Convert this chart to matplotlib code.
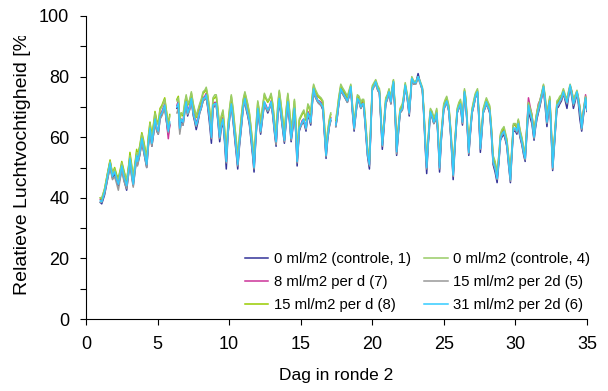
import numpy as np
import matplotlib
matplotlib.use('Agg')
import matplotlib.pyplot as plt
from matplotlib.ticker import MultipleLocator
from matplotlib.transforms import Bbox, TransformedBbox

nan = np.nan

# meetmomenten (dag in ronde 2), per dag een rij
dag = [
    1.0, 1.1, 1.3, 1.5, 1.68, 1.85, 2.0,
    2.15, 2.26, 2.4, 2.5, 2.65, 2.84, 3.0,
    3.07, 3.2, 3.3, 3.45, 3.54, 3.6, 3.75, 3.9,
    4.0, 4.12, 4.24, 4.35, 4.47, 4.6, 4.72, 4.82, 4.95,
    5.05, 5.17, 5.3, 5.5, 5.6, 5.75, 5.85, 6.1,
    6.35, 6.45, 6.55, 6.65, 6.78, 6.9,
    7.0, 7.1, 7.25, 7.36, 7.5, 7.6, 7.7, 7.82, 7.94,
    8.05, 8.18, 8.3, 8.4, 8.5, 8.62, 8.76, 8.87,
    9.0, 9.1, 9.22, 9.34, 9.45, 9.57, 9.68, 9.8, 9.92,
    10.04, 10.15, 10.28, 10.4, 10.5, 10.6, 10.72, 10.85, 10.98,
    11.1, 11.2, 11.3, 11.42, 11.55, 11.65, 11.74, 11.86,
    12.0, 12.1, 12.2, 12.33, 12.46, 12.58, 12.7, 12.82, 12.93,
    13.05, 13.18, 13.28, 13.4, 13.5, 13.6, 13.7, 13.86, 13.98,
    14.1, 14.22, 14.33, 14.45, 14.56, 14.66, 14.75, 14.82, 14.9,
    15.0, 15.1, 15.22, 15.37, 15.5, 15.6, 15.7, 15.8, 15.9,
    16.0, 16.1, 16.2, 16.3, 16.42, 16.55, 16.66, 16.77, 16.88,
    17.0, 17.1, 17.25, 17.45, 17.55, 17.65, 17.8, 17.9,
    18.03, 18.15, 18.26, 18.38, 18.5, 18.6, 18.73, 18.85, 18.96,
    19.08, 19.2, 19.3, 19.4, 19.52, 19.66, 19.8, 19.9,
    20.0, 20.12, 20.24, 20.38, 20.5, 20.6, 20.7, 20.82, 20.94,
    21.05, 21.17, 21.3, 21.4, 21.48, 21.6, 21.7, 21.82, 21.94,
    22.1, 22.2, 22.3, 22.45, 22.58, 22.68, 22.76, 22.9,
    23.05, 23.2, 23.35, 23.5, 23.6, 23.7, 23.8, 23.9,
    24.0, 24.06, 24.18, 24.3, 24.4, 24.5, 24.6, 24.7, 24.82, 24.99,
    25.1, 25.2, 25.35, 25.5, 25.65, 25.78, 25.93,
    26.05, 26.16, 26.3, 26.44, 26.52, 26.6, 26.74, 26.85, 26.97,
    27.1, 27.2, 27.35, 27.45, 27.55, 27.65, 27.75, 27.87, 27.97,
    28.1, 28.2, 28.32, 28.44, 28.58, 28.72, 28.85, 28.95,
    29.05, 29.2, 29.3, 29.4, 29.52, 29.65, 29.75, 29.86,
    30.0, 30.1, 30.2, 30.32, 30.45, 30.58, 30.68, 30.8, 30.91,
    31.03, 31.15, 31.3, 31.4, 31.5, 31.6, 31.7, 31.85, 31.96,
    32.08, 32.2, 32.3, 32.4, 32.5, 32.6, 32.75, 32.9,
    33.0, 33.1, 33.22, 33.35, 33.48, 33.6, 33.7, 33.82, 33.95,
    34.05, 34.18, 34.3, 34.4, 34.5, 34.63, 34.75, 34.9, 35.0,
]

# 0 ml/m2 (controle, 1)
rv_controle_1 = [
    38.5, 38, 41, 46, 50.5, 46.5, 48,
    45.5, 44, 47, 50, 46, 42.5, 49,
    52, 47, 44, 50, 53, 51, 54, 58.5,
    56, 53, 50, 57, 62, 57, 61, 65, 62,
    61, 66, 67.5, 70, 66, 61, 64, nan,
    69.5, 71, 62, 65, 64, 68.5,
    71, 67, 69.5, 72, 67, 65, 62.5, 65, 68,
    69.5, 72, 72.5, 73, 70, 65, 58, 69.5,
    70.5, 70.5, 65, 58.5, 63, 65, 58.5, 49.5, 61,
    66.5, 70.5, 65, 59, 54.5, 49.5, 57, 63, 69.5,
    72, 69, 67, 64, 58, 53.5, 48.5, 59,
    69, 65, 61, 66, 71, 69.5, 68, 69.5, 71.5,
    67, 61, 57, 67, 72, 68, 64, 58, 65,
    71, 65, 58.5, 63, 69, 61, 50.5, 56, 62,
    63.5, 64.5, 65, 62, 67.5, 66, 64, 70.5, 75.5,
    73.5, 72.5, 71.5, 71, 70.5, 69, 61, 53, 59,
    63.5, 65.5, nan, 63.5, 66.5, 70.5, 75.5, 74.5,
    73.5, 72.5, 71.5, 73.5, 76, 69, 62, 67.5, 72,
    71.5, 69.5, 70.5, 70.5, 63, 54, 49.5, 63,
    75.5, 77, 78, 75.5, 74.5, 65, 56, 63, 71,
    72.5, 74.5, 71, 75.5, 78, 67, 54, 61, 68,
    69, 72.5, 77, 72.5, 67, 73.5, 79.5, 77.5,
    78, 81, 78, 75.5, 67, 56.5, 48, 57,
    64, 68, 66.5, 64.5, 65.5, 67.5, 59, 48.5, 59, 69,
    70.5, 71.5, 68.5, 59, 46, 57, 68,
    69.5, 70.5, 64, 74.5, 71.5, 66, 54, 61, 68,
    70.5, 73, 74.5, 66, 55, 61, 68, 69.5, 71,
    69.5, 68, 61, 51, 48.5, 45, 52, 59,
    60, 61, 59, 57, 51, 45, 54, 62,
    62, 61, 63.5, 60, 57.5, 54, 52, 61, 68.5,
    66.5, 64.5, 59, 63, 66, 68, 70, 73.5, 76,
    70, 63.5, 68, 71, 61, 49, 59, 69.5,
    70, 71, 72, 74.5, 72, 69.5, 73, 76.5, 73,
    69.5, 72, 74.5, 71, 66, 62, 67, 72, 68.5,
]

# 0 ml/m2 (controle, 4)
rv_controle_4 = [
    40, 40, 43, 48, 52, 48, 49.5,
    47, 46, 49, 51.5, 48.5, 46, 51,
    54, 50, 47, 52, 55, 54, 56.5, 61,
    59, 56, 53, 59.5, 64.5, 60, 64, 68, 65,
    64, 69, 70, 72.5, 69, 64, 67, nan,
    72, 73, 66, 68, 67.5, 71.5,
    74, 71, 72.5, 75, 71, 69, 67, 69, 71,
    72.5, 75, 75.5, 76.5, 74, 70, 63, 73,
    74, 74, 69.5, 63, 67, 69, 63, 54.5, 64.5,
    70, 74, 69.5, 63.5, 59, 53.5, 60.5, 67, 72.5,
    75, 73, 71, 68, 62.5, 58, 52.5, 62.5,
    72, 69, 65, 70, 74.5, 73, 72, 73, 74.5,
    71, 65, 61, 71, 75.5, 72, 68, 62, 69,
    74.5, 69, 62.5, 67, 72.5, 65, 55, 60, 66,
    67, 68, 69, 66, 71, 70, 68, 73.5, 77.5,
    76, 75, 74, 73.5, 73, 72, 64.5, 56.5, 62,
    66, 68, nan, 66, 69, 73, 77.5, 76.5,
    75.5, 74.5, 73.5, 75.5, 77.5, 71.5, 65, 69.5, 74,
    73.5, 71.5, 72.5, 72.5, 66, 57, 52.5, 65.5,
    77, 78, 79, 77, 76, 67.5, 59, 65.5, 73,
    74, 76, 73, 77, 79, 69.5, 57, 63.5, 69.5,
    71, 74, 78, 74, 69.5, 75, 80, 78.5,
    78.5, 80, 78.5, 76.5, 69.5, 60, 52, 59.5,
    66.5, 69.5, 68.5, 66.5, 67.5, 69.5, 61.5, 52, 61.5, 71,
    72.5, 73.5, 70.5, 61.5, 49.5, 59.5, 69.5,
    71.5, 72.5, 66.5, 76, 73.5, 68.5, 57, 63.5, 69.5,
    72.5, 74.5, 76, 68.5, 58, 63.5, 69.5, 71.5, 73,
    71.5, 70.5, 63.5, 54, 52, 48.5, 54.5, 61,
    62.5, 63.5, 61.5, 59.5, 54, 48, 56.5, 64.5,
    64.5, 63.5, 66, 62.5, 60, 56.5, 55, 63.5, 71.5,
    69.5, 67.5, 61.5, 65.5, 68.5, 70.5, 72, 75, 77.5,
    73.5, 66.5, 70.5, 73.5, 63.5, 52, 61.5, 72,
    72.5, 73.5, 74, 76, 74, 72.5, 75, 77.5, 75,
    72.5, 74, 75.5, 73, 70, 64.5, 69, 73.5, 70,
]

# 8 ml/m2 per d (7)
rv_8_per_d = [
    39.5, 39, 42, 47.5, 52, 47.5, 48.5,
    46, 44.5, 48.5, 51, 47.5, 44.5, 50.5,
    53.5, 48.5, 45, 51.5, 54.5, 52.5, 55.5, 60,
    57.5, 54.5, 51.5, 58, 63.5, 58.5, 62.5, 66.5, 63,
    62, 67.5, 68.5, 71, 66.5, 59.5, 64, nan,
    70.5, 72, 63.5, 66, 65.5, 69.5,
    72.5, 68.5, 70.5, 73.5, 68.5, 66.5, 64.5, 66.5, 69,
    70.5, 73, 73.5, 74.5, 71.5, 67, 60.5, 71,
    71.5, 71.5, 66.5, 60.5, 64.5, 66.5, 60.5, 52.5, 62.5,
    67.5, 71.5, 66.5, 61, 56, 51.5, 58, 64.5, 70.5,
    73, 70.5, 68.5, 65.5, 60, 55, 50.5, 60.5,
    70, 66.5, 62, 67, 71.5, 70.5, 69, 70, 72,
    68, 62, 58, 68.5, 73, 69.5, 65.5, 59.5, 66,
    72, 66.5, 60, 64, 70, 62.5, 52.5, 57, 63,
    64, 65.5, 66, 63, 68.5, 67.5, 65, 71.5, 76.5,
    74, 73.5, 72, 72, 71.5, 70.5, 62, 54.5, 60.5,
    64.5, 66.5, nan, 64, 67, 71, 76.5, 75,
    74.5, 73.5, 72, 74, 76.5, 70, 63.5, 68, 73,
    72, 70, 71.5, 71, 64, 55.5, 51, 64,
    76, 77.5, 78.5, 76.5, 75, 66.5, 58, 64.5, 71.5,
    73.5, 75.5, 72, 76, 78, 68.5, 55.5, 62.5, 68.5,
    69.5, 73, 77, 73, 68, 74, 79.5, 78,
    78, 80, 78, 76, 68.5, 58.5, 50.5, 58,
    65.5, 68.5, 67, 65.5, 66, 68, 60.5, 50.5, 60.5, 69.5,
    71, 72, 69.5, 60.5, 48, 58.5, 68.5,
    70, 71, 65.5, 75, 72.5, 67, 55.5, 62, 68.5,
    71, 73.5, 75, 67.5, 56.5, 62.5, 68.5, 70, 71.5,
    70, 69.5, 62.5, 52.5, 50.5, 47, 53, 60,
    61.5, 62.5, 60.5, 58, 52.5, 47, 55.5, 64,
    64, 63, 65.5, 61.5, 59, 55.5, 54, 63.5, 73,
    70, 67.5, 61.5, 65, 68, 71, 72, 74.5, 77,
    72.5, 65.5, 70, 72.5, 62.5, 50.5, 60.5, 71,
    71.5, 72.5, 73, 75, 73.5, 72, 74, 77, 75,
    72, 73.5, 75, 73, 70, 64, 68.5, 74, 70.5,
]

# 15 ml/m2 per 2d (5)
rv_15_per_2d = [
    38.5, 38.5, 41.5, 46, 50, 46, 47,
    44.5, 42.5, 46.5, 49, 45.5, 43, 48.5,
    51.5, 46.5, 43.5, 49.5, 52.5, 50.5, 54, 58,
    56, 53, 50, 56.5, 61.5, 57, 61, 64.5, 62,
    61, 66, 67, 69.5, 66, 61.5, 64.5, nan,
    68, 69.5, 61, 64.5, 64, 68,
    70.5, 67.5, 69, 72, 67.5, 65.5, 63.5, 65.5, 68,
    69.5, 72, 72.5, 73, 70.5, 66.5, 59.5, 70,
    70.5, 70.5, 65.5, 59.5, 63.5, 65.5, 59.5, 51.5, 61.5,
    66.5, 70.5, 65.5, 60, 55.5, 50.5, 57.5, 63.5, 69.5,
    72, 69.5, 67.5, 64.5, 59, 54.5, 49.5, 59.5,
    69, 65.5, 61.5, 66.5, 71, 69.5, 68.5, 69.5, 71,
    67.5, 61.5, 57.5, 67.5, 72, 68.5, 64.5, 58.5, 65.5,
    71, 65.5, 59, 63.5, 69, 61.5, 51.5, 56.5, 62.5,
    63.5, 64.5, 65.5, 62.5, 67.5, 66.5, 64.5, 70.5, 75.5,
    73.5, 72.5, 71.5, 71, 70.5, 69.5, 61.5, 53.5, 59.5,
    63.5, 65.5, nan, 63.5, 66.5, 70.5, 75.5, 74.5,
    73.5, 72.5, 71.5, 73.5, 76, 69.5, 62.5, 67.5, 72,
    71.5, 69.5, 70.5, 70.5, 63.5, 54.5, 50.5, 63.5,
    75.5, 76.5, 77.5, 75.5, 74.5, 65.5, 57, 63.5, 71,
    72.5, 74.5, 71, 75.5, 77.5, 67.5, 54.5, 61.5, 68,
    69, 72.5, 76.5, 72.5, 67.5, 73.5, 78.5, 77.5,
    77.5, 79.5, 77.5, 75.5, 67.5, 57.5, 49.5, 57.5,
    64.5, 68, 66.5, 64.5, 65.5, 67.5, 59.5, 49.5, 59.5, 69,
    70.5, 71.5, 68.5, 59.5, 47, 57.5, 68,
    69.5, 70.5, 64.5, 74.5, 71.5, 66.5, 54.5, 61.5, 68,
    70.5, 73, 74.5, 66.5, 56, 61.5, 68, 69.5, 71,
    69.5, 68.5, 61.5, 51.5, 49.5, 46, 52.5, 59,
    60.5, 61.5, 59.5, 57.5, 51.5, 45.5, 54.5, 62.5,
    62.5, 61.5, 64, 60.5, 58, 54.5, 52.5, 61.5, 70,
    67.5, 65.5, 59.5, 63.5, 66.5, 68.5, 70.5, 73.5, 76,
    71.5, 64.5, 68.5, 71.5, 61.5, 49.5, 59.5, 70,
    70.5, 71.5, 72.5, 74.5, 72.5, 71, 73.5, 76.5, 73.5,
    70.5, 72.5, 74.5, 71.5, 68.5, 62.5, 67.5, 72.5, 69,
]

# 15 ml/m2 per d (8)
rv_15_per_d = [
    40, 39.5, 43, 48, 52.5, 48, 50,
    47.5, 46.5, 49.5, 52, 49, 45.5, 51.5,
    55, 50.5, 46.5, 52.5, 56, 54, 57, 61.5,
    59.5, 56.5, 53, 60, 65, 60.5, 64.5, 68.5, 65.5,
    64.5, 69.5, 70.5, 73, 69.5, 64, 67.5, nan,
    72.5, 73.5, 65.5, 68, 67, 71,
    73.5, 70.5, 72, 74.5, 70.5, 68.5, 66.5, 68.5, 70.5,
    72, 74.5, 75, 76, 73.5, 69.5, 62.5, 72.5,
    73, 73.5, 68.5, 62.5, 66.5, 68.5, 62.5, 54, 64,
    69.5, 73.5, 68.5, 63, 58.5, 53, 60, 66.5, 72,
    74.5, 72.5, 70.5, 67.5, 62, 57.5, 52, 62,
    71.5, 68.5, 64.5, 69.5, 74, 72.5, 71.5, 72.5, 74,
    70.5, 64.5, 60.5, 70.5, 75, 71.5, 67.5, 61.5, 68.5,
    74, 68.5, 62, 66.5, 72, 64.5, 54.5, 59.5, 65.5,
    66.5, 67.5, 68.5, 65.5, 70.5, 69.5, 67.5, 73, 77,
    75.5, 74.5, 73.5, 73, 72.5, 71.5, 64, 56, 61.5,
    65.5, 67.5, nan, 65.5, 68.5, 72.5, 77, 76,
    75, 74, 73, 75, 77, 71, 64.5, 69, 73.5,
    73, 71, 72, 72, 65.5, 56.5, 52, 65,
    76.5, 77.5, 78.5, 76.5, 75.5, 67, 58.5, 65, 72.5,
    73.5, 75.5, 72.5, 76.5, 78.5, 69, 56.5, 63, 69,
    70.5, 73.5, 77.5, 73.5, 69, 74.5, 79.5, 78,
    78, 79.5, 78, 76, 69, 59.5, 51.5, 59,
    66, 69, 68, 66, 67, 69, 61, 51.5, 61, 70.5,
    72, 73, 70, 61, 49, 59, 69,
    71, 72, 66, 75.5, 73, 68, 56.5, 63, 69,
    72, 74, 75.5, 68, 57.5, 63, 69, 71, 72.5,
    71, 70, 63, 53.5, 51.5, 48, 54, 60.5,
    62, 63, 61, 59, 53.5, 47.5, 56, 64,
    64, 63, 65.5, 62, 59.5, 56, 54.5, 63, 71,
    69, 67, 61, 65, 68, 70, 71.5, 74.5, 77,
    73, 66, 70, 73, 63, 51.5, 61, 71.5,
    72, 73, 73.5, 75.5, 73.5, 72, 74.5, 77, 74.5,
    72, 73.5, 75, 72.5, 69.5, 64, 68.5, 73, 69.5,
]

# 31 ml/m2 per 2d (6)
rv_31_per_2d = [
    39, 38.7, 42, 47, 51.5, 47, 48.6,
    46, 44.5, 48, 50.5, 47, 44, 50,
    53, 48, 44.5, 51, 54, 52, 55, 59.6,
    57, 54, 51, 58, 63, 58, 62, 66, 63,
    62, 67, 68, 70.6, 67, 62, 65, nan,
    70, 71.2, 63, 66, 65, 69,
    71.7, 68, 70, 72.8, 68, 66, 64, 66, 68.4,
    70, 72.8, 73, 74, 71, 67, 60, 70.6,
    71, 71.2, 66, 60, 64, 66, 60, 52, 62,
    67.3, 71, 66, 60.7, 56, 51, 58, 64, 70,
    72.8, 70, 68, 65, 59.6, 55, 50, 60,
    69.5, 66, 62, 67, 71.7, 70, 69, 70, 71.7,
    68, 62, 58.5, 68, 72.8, 69, 65, 59, 66,
    71.7, 66, 59.6, 64, 69.5, 62, 52, 57, 63,
    64, 65, 66, 63, 68, 67, 65, 71, 76,
    74, 73, 72, 71.7, 71, 70, 62, 54, 60,
    64, 66, nan, 64, 67, 71, 76, 75,
    74, 73, 72, 74, 76.7, 70, 63, 68, 72.8,
    72, 70, 71, 71, 64, 55, 51, 64,
    76, 77, 78.3, 76, 75, 66, 57.4, 64, 71.7,
    73, 75, 71.7, 76, 78.3, 68, 55.2, 62, 68.4,
    69.5, 73, 77.2, 73, 68, 74, 79.4, 78,
    78, 80, 78, 76, 68, 58, 50, 58,
    65, 68.4, 67, 65, 66, 68, 60, 50, 60, 69.5,
    71, 72, 69, 60, 47.5, 58, 68.4,
    70, 71, 65, 75, 72, 67, 55, 62, 68.4,
    71, 73.4, 75, 67, 56.3, 62, 68.4, 70, 71.7,
    70, 69, 62, 52, 50, 46.4, 53, 59.6,
    61, 62, 60, 58, 52, 46, 55, 63,
    63, 62, 64.5, 61, 58.5, 55, 53, 62, 70.6,
    68, 66, 60, 64, 67, 69, 71, 74, 76.7,
    72, 65, 69, 72, 62, 50, 60, 70.6,
    71, 72, 73, 75, 73, 71.5, 74, 77.2, 74,
    71, 73, 75, 72, 69, 63, 68, 73, 69,
]

# volgorde zo dat de legenda kolomsgewijs goed uitkomt
reeksen = [
    ('0 ml/m2 (controle, 1)', rv_controle_1, '#333399'),
    ('8 ml/m2 per d (7)', rv_8_per_d, '#cc3399'),
    ('15 ml/m2 per d (8)', rv_15_per_d, '#99cc00'),
    ('0 ml/m2 (controle, 4)', rv_controle_4, '#99cc66'),
    ('15 ml/m2 per 2d (5)', rv_15_per_2d, '#999999'),
    ('31 ml/m2 per 2d (6)', rv_31_per_2d, '#33ccff'),
]

plt.rcParams['font.family'] = ['Liberation Sans', 'DejaVu Sans']

fig = plt.figure(figsize=(6.08, 3.91), dpi=100)
ax = fig.add_axes([86 / 608, 72 / 391, 501 / 608, 303 / 391])

for naam, waarden, kleur in reeksen:
    ax.plot(dag, waarden, color=kleur, linewidth=1.1, label=naam)

ax.set_xlim(0, 35)
ax.set_ylim(0, 100)
ax.xaxis.set_major_locator(MultipleLocator(5))
ax.yaxis.set_major_locator(MultipleLocator(20))
ax.yaxis.set_minor_locator(MultipleLocator(10))
ax.tick_params(which='both', direction='out', width=0.8, color='black', length=4)
ax.tick_params(axis='y', labelsize=13, pad=8)
ax.tick_params(axis='x', labelsize=13, pad=8)

for kant in ('top', 'right'):
    ax.spines[kant].set_visible(False)
for kant in ('left', 'bottom'):
    ax.spines[kant].set_linewidth(0.8)
    ax.spines[kant].set_color('black')

ax.set_xlabel('Dag in ronde 2', fontsize=12.5, labelpad=11)
ylab = ax.set_ylabel('Relatieve Luchtvochtigheid [%]', fontsize=14)
ax.yaxis.set_label_coords(-0.109, 0.52)
# label valt bovenaan buiten het kader en wordt daar afgekapt
ylab.set_clip_box(TransformedBbox(Bbox.from_extents(0, 0, 1, 355 / 391), fig.transFigure))
ylab.set_clip_on(True)

ax.legend(loc='lower right', bbox_to_anchor=(590 / 608, 79 / 391), bbox_transform=fig.transFigure,
          ncol=2, frameon=False, fontsize=10.7, handlelength=1.6, handletextpad=0.35,
          columnspacing=0.9, labelspacing=0.6, borderpad=0, borderaxespad=0)

fig.savefig('out.png', dpi=100)
